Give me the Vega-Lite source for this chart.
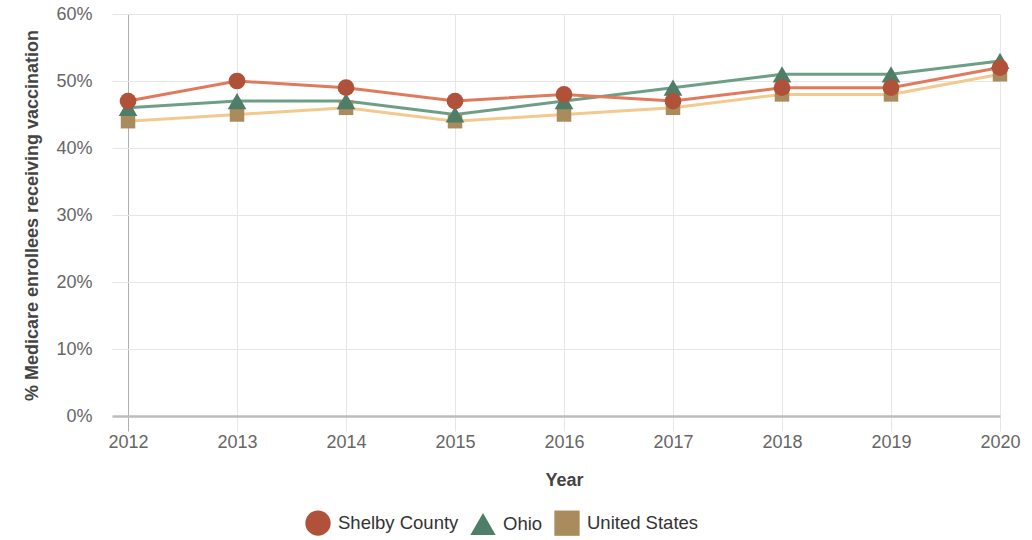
{
  "$schema": "https://vega.github.io/schema/vega-lite/v6.json",
  "width": 888,
  "height": 402,
  "padding": {"left": 112, "top": 14, "right": 32, "bottom": 124},
  "autosize": {"type": "none"},
  "background": "white",
  "config": {
    "view": {"stroke": null},
    "font": "Liberation Sans"
  },
  "data": {
    "values": [
      {"year": 2012, "series": "United States", "pct": 44},
      {"year": 2013, "series": "United States", "pct": 45},
      {"year": 2014, "series": "United States", "pct": 46},
      {"year": 2015, "series": "United States", "pct": 44},
      {"year": 2016, "series": "United States", "pct": 45},
      {"year": 2017, "series": "United States", "pct": 46},
      {"year": 2018, "series": "United States", "pct": 48},
      {"year": 2019, "series": "United States", "pct": 48},
      {"year": 2020, "series": "United States", "pct": 51},
      {"year": 2012, "series": "Ohio", "pct": 46},
      {"year": 2013, "series": "Ohio", "pct": 47},
      {"year": 2014, "series": "Ohio", "pct": 47},
      {"year": 2015, "series": "Ohio", "pct": 45},
      {"year": 2016, "series": "Ohio", "pct": 47},
      {"year": 2017, "series": "Ohio", "pct": 49},
      {"year": 2018, "series": "Ohio", "pct": 51},
      {"year": 2019, "series": "Ohio", "pct": 51},
      {"year": 2020, "series": "Ohio", "pct": 53},
      {"year": 2012, "series": "Shelby County", "pct": 47},
      {"year": 2013, "series": "Shelby County", "pct": 50},
      {"year": 2014, "series": "Shelby County", "pct": 49},
      {"year": 2015, "series": "Shelby County", "pct": 47},
      {"year": 2016, "series": "Shelby County", "pct": 48},
      {"year": 2017, "series": "Shelby County", "pct": 47},
      {"year": 2018, "series": "Shelby County", "pct": 49},
      {"year": 2019, "series": "Shelby County", "pct": 49},
      {"year": 2020, "series": "Shelby County", "pct": 52}
    ]
  },
  "encoding": {
    "x": {
      "field": "year",
      "type": "quantitative",
      "scale": {"domain": [2011.853, 2020], "nice": false, "zero": false},
      "axis": {
        "title": "Year",
        "values": [2012, 2013, 2014, 2015, 2016, 2017, 2018, 2019, 2020],
        "format": "d",
        "labelFontSize": 18,
        "labelColor": "#666666",
        "labelPadding": 2,
        "labelFlush": false,
        "labelOverlap": false,
        "tickSize": 15,
        "tickColor": {"condition": {"test": "datum.value == 2012", "value": "#b0b0b0"}, "value": "#e6e6e6"},
        "gridColor": {"condition": {"test": "datum.value == 2012", "value": "#b0b0b0"}, "value": "#e6e6e6"},
        "grid": true,
        "domainColor": "#bdbdbd",
        "domainWidth": 2.5,
        "titleFontSize": 18,
        "titleFontWeight": "bold",
        "titleColor": "#444444",
        "titlePadding": 20,
        "titleX": 452
      }
    },
    "y": {
      "field": "pct",
      "type": "quantitative",
      "scale": {"domain": [0, 60], "nice": false},
      "axis": {
        "title": "% Medicare enrollees receiving vaccination",
        "values": [0, 10, 20, 30, 40, 50, 60],
        "labelExpr": "datum.value + '%'",
        "labelFontSize": 18,
        "labelColor": "#666666",
        "labelPadding": 20,
        "ticks": false,
        "domain": false,
        "gridColor": "#e6e6e6",
        "titleFontSize": 18,
        "titleFontWeight": "bold",
        "titleColor": "#444444",
        "titlePadding": 14
      }
    }
  },
  "layer": [
    {
      "mark": {"type": "line", "strokeWidth": 3},
      "encoding": {
        "stroke": {
          "field": "series",
          "type": "nominal",
          "scale": {"domain": ["United States", "Ohio", "Shelby County"], "range": ["#f2c98e", "#6d9f86", "#e07a5c"]},
          "legend": null
        },
        "detail": {"field": "series"}
      }
    },
    {
      "mark": {"type": "point", "filled": true, "opacity": 1},
      "encoding": {
        "color": {
          "field": "series",
          "type": "nominal",
          "title": null,
          "scale": {"domain": ["Shelby County", "Ohio", "United States"], "range": ["#b0513a", "#4e7e68", "#a98b5e"]},
          "legend": {"orient": "none", "legendX": 193, "legendY": 496, "direction": "horizontal", "labelFontSize": 18.5, "labelColor": "#333333", "symbolSize": 640, "symbolStrokeWidth": 0, "symbolOpacity": 1, "labelOffset": 7, "columnPadding": 11}
        },
        "shape": {
          "field": "series",
          "type": "nominal",
          "title": null,
          "scale": {"domain": ["Shelby County", "Ohio", "United States"], "range": ["circle", "triangle-up", "square"]}
        },
        "size": {
          "field": "series",
          "type": "nominal",
          "scale": {"domain": ["United States", "Shelby County", "Ohio"], "range": [210, 350, 320]},
          "legend": null
        }
      }
    }
  ]
}
